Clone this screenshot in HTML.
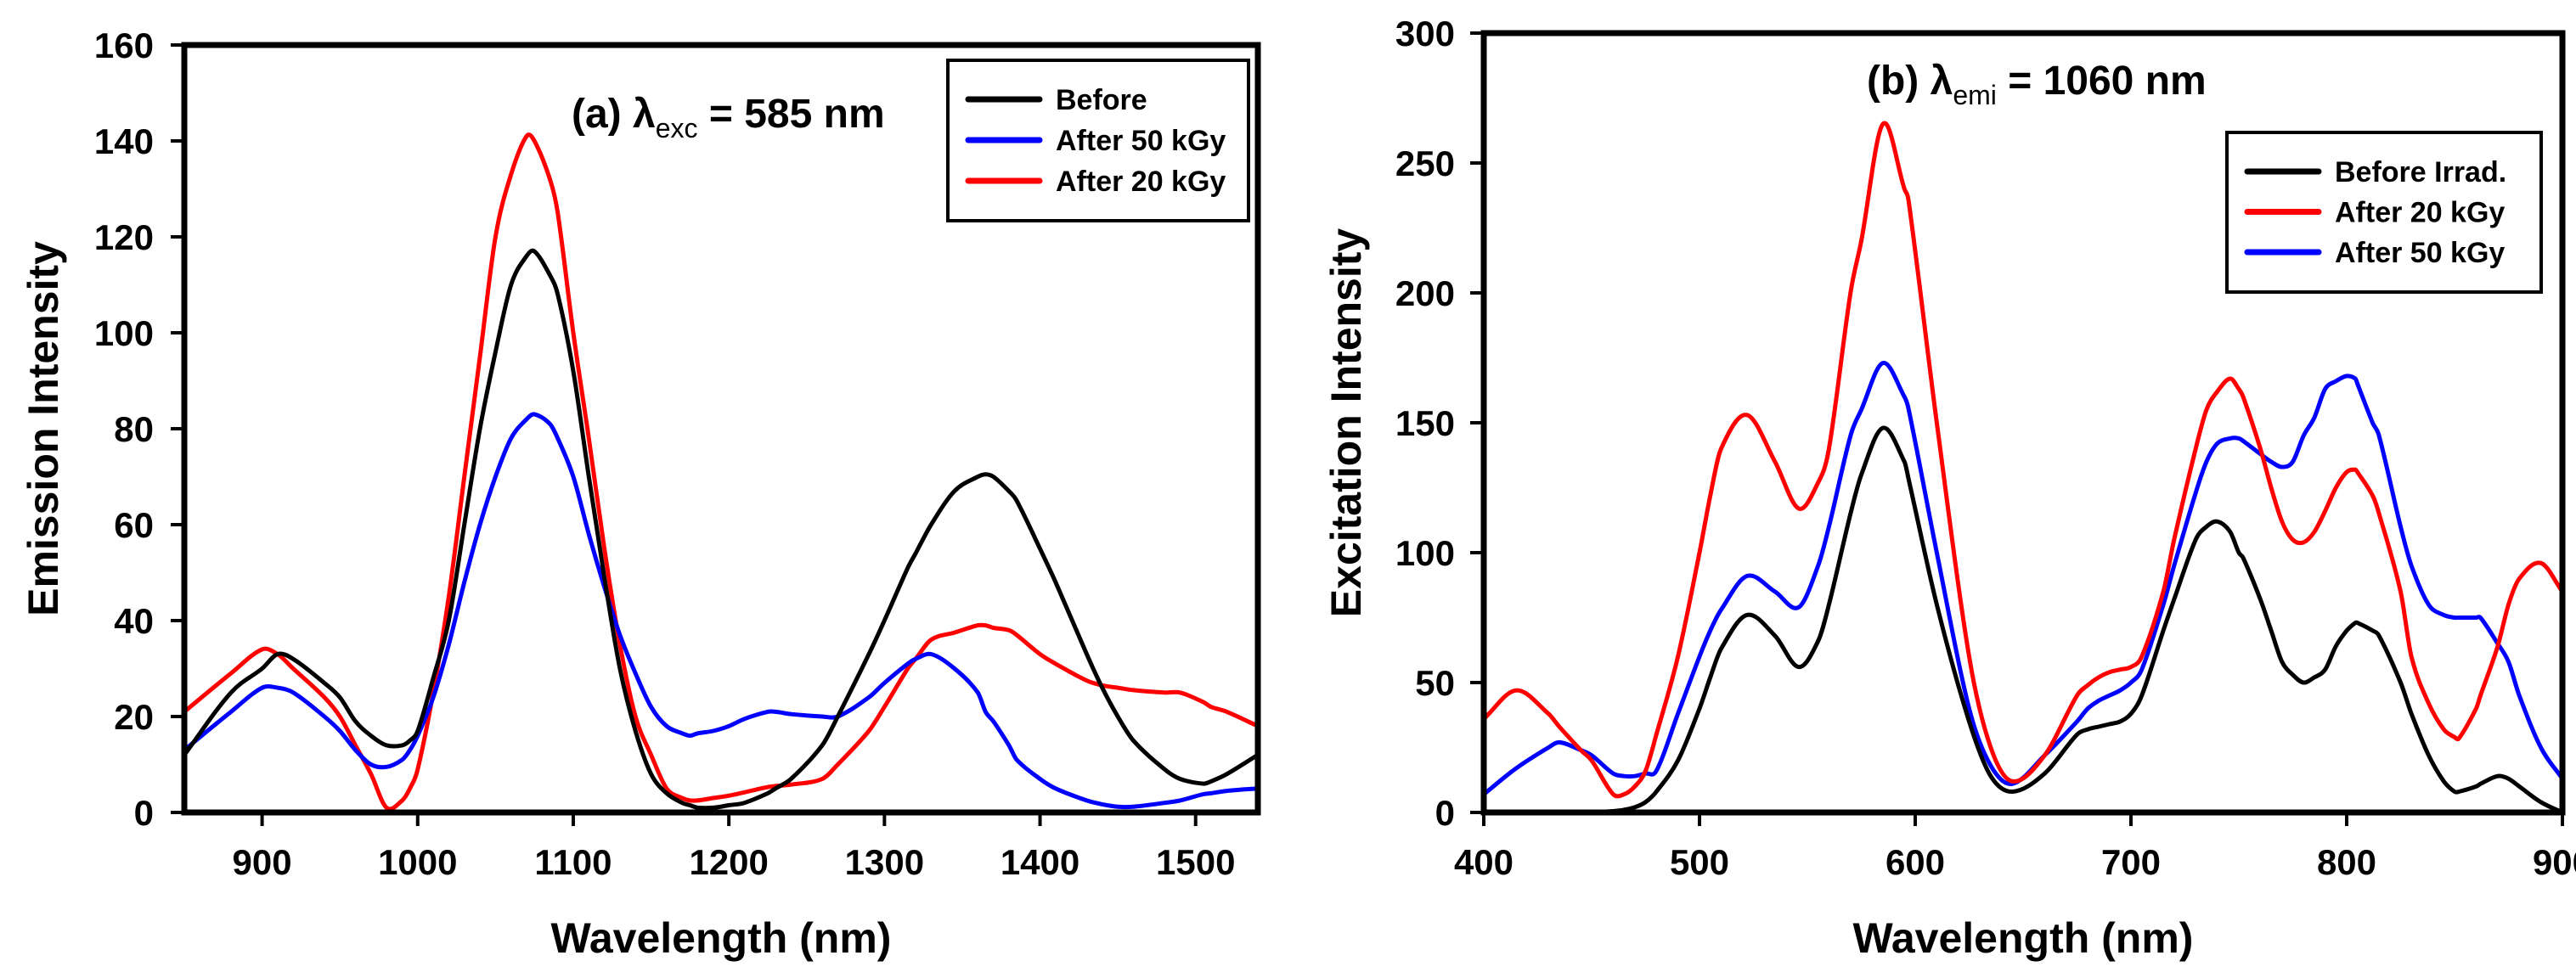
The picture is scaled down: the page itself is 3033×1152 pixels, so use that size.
<!DOCTYPE html>
<html><head><meta charset="utf-8"><style>
html,body{margin:0;padding:0;background:#fff;}
svg{display:block;font-family:"Liberation Sans",Arial,sans-serif;font-weight:bold;}
</style></head><body>
<svg id="chart" width="3033" height="1152" viewBox="0 0 3033 1152" xmlns="http://www.w3.org/2000/svg">
<rect width="3033" height="1152" fill="#fff"/>
<g id="pa"></g>
<g id="pb"></g>
</svg>
<script>
// Panel (a) data
const aX = [850,880,900,910,920,940,950,960,970,980,990,995,1000,1010,1020,1030,1040,1050,1060,1070,1075,1085,1090,1100,1110,1120,1130,1140,1150,1160,1170,1175,1180,1190,1200,1210,1225,1230,1240,1260,1270,1290,1300,1315,1320,1330,1345,1360,1365,1370,1380,1385,1400,1410,1430,1440,1450,1460,1480,1490,1505,1510,1520,1540];
const aBefore = [12,25,30,33,32,27,24,19,16,14,14,15,17,28,40,60,80,96,110,116,117,112,108,92,70,49,30,17,8,4,2,1.5,1,1,1.5,2,4,5,7,14,20,33,40,51,54,60,67,70,70.5,70,67,65,55,48,33,26,20,15,9,7,6,6.5,8,12];
const aBlue = [13,21,26,26,25,20,17,13,10,9.5,11,13,16,24,35,48,60,70,78,82,83,81,78,70,58,47,37,29,22,18,16.5,16,16.5,17,18,19.5,21,21,20.5,20,20,24,27,31,32,33,30,25,21,19,14,11,7,5,2.5,1.7,1.2,1.2,2,2.5,3.8,4,4.5,5];
const aRed = [21,29,34,33,30,24,20,14,8,1,2.5,5,9,25,45,70,95,120,133,141,140,132,125,100,78,55,35,20,12,5,3,2.5,2.5,3,3.5,4.2,5.3,5.5,5.8,7,10,17,22,30,32,36,37.5,39,39,38.5,38,37,33,31,27.5,26.5,26,25.5,25,25,23,22,21,18];
const aYTicks = [0,20,40,60,80,100,120,140,160];
const aXTicks = [900,1000,1100,1200,1300,1400,1500];
// Panel (b) data
const bX = [400,415,430,435,445,450,460,465,470,475,480,490,500,505,510,522,535,546,555,560,570,575,585,595,597,610,625,635,645,660,675,680,685,690,695,700,705,715,720,730,735,740,746,750,752,760,765,770,775,780,785,790,795,800,804,805,812,815,825,830,838,845,850,852,860,862,870,875,880,890,900];
const bBefore = [0,0,0,0,0,0,0.5,1,2,4,8,20,40,52,63,76,68,56,66,80,115,130,148,135,128,80,35,14,8,15,30,32,33,34,35,38,45,70,82,105,110,112,108,100,98,82,70,58,53,50,52,55,64,70,73,73,70,68,50,38,22,12,8,8,10,11,14,13,10,4,0];
const bRed = [36,47,38,33,24,20,7,7,10,16,30,60,100,122,140,153,135,117,127,140,200,220,265,240,235,150,60,25,12,22,45,49,52,54,55,56,60,85,105,140,155,162,167,163,160,140,125,112,105,104,108,116,125,131,132,131,122,115,85,60,42,32,29,28.5,40,45,64,80,90,96,85];
const bBlue = [7,17,25,27,24,22,15,14,14,15,16,38,60,70,78,91,85,79,95,110,145,155,173,160,155,100,40,18,11,22,35,40,43,45,47,50,55,80,95,123,135,142,144,144,143,138,135,133,135,145,152,163,166,168,167,165,150,145,110,95,80,76,75,75,75,75,65,58,45,25,13];
const bYTicks = [0,50,100,150,200,250,300];
const bXTicks = [400,500,600,700,800,900];

const NS = "http://www.w3.org/2000/svg";
function mk(parent, tag, attrs, text){
  const e = document.createElementNS(NS, tag);
  for (const k in attrs) e.setAttribute(k, attrs[k]);
  if (text !== undefined) e.textContent = text;
  parent.appendChild(e);
  return e;
}
function smoothPath(pts){
  const n = pts.length;
  const m = pts.map((p, i) => {
    const a = pts[Math.max(0, i - 1)], b = pts[Math.min(n - 1, i + 1)];
    return (b[1] - a[1]) / (b[0] - a[0]);
  });
  let d = "M" + pts[0][0].toFixed(1) + "," + pts[0][1].toFixed(1);
  for (let i = 0; i < n - 1; i++){
    const p1 = pts[i], p2 = pts[i + 1], dx = (p2[0] - p1[0]) / 3;
    d += " C" + (p1[0] + dx).toFixed(1) + "," + (p1[1] + m[i] * dx).toFixed(1) + " " +
         (p2[0] - dx).toFixed(1) + "," + (p2[1] - m[i + 1] * dx).toFixed(1) + " " +
         p2[0].toFixed(1) + "," + p2[1].toFixed(1);
  }
  return d;
}

function drawPanel(g, cfg){
  const {L,R,T,B,xmin,xmax,ymax,xTicks,yTicks,xs,series,ytitle,ytitleX,labelRight,legend,annot} = cfg;
  const sx = v => L + (v - xmin) / (xmax - xmin) * (R - L);
  const sy = v => B - v / ymax * (B - T);
  const cid = "clip" + L;
  const defs = mk(g, "defs", {});
  const cp = mk(defs, "clipPath", {id: cid});
  mk(cp, "rect", {x: L, y: T, width: R - L, height: B - T});
  series.forEach(s => {
    const pts = xs.map((x, i) => [sx(x), sy(s.vals[i])]);
    const p = mk(g, "path", {d: smoothPath(pts), fill: "none", stroke: s.color, "stroke-width": 5, "stroke-linejoin": "round", "clip-path": "url(#" + cid + ")"});
    
    
  });
  const fr = mk(g, "rect", {x: L, y: T, width: R - L, height: B - T, fill: "none", stroke: "#000", "stroke-width": 7});
  
  
  yTicks.forEach(v => {
    const y = sy(v);
    const t = mk(g, "line", {x1: L - 16, x2: L, y1: y, y2: y, stroke: "#000", "stroke-width": 4});
    
    
    const lb = mk(g, "text", {x: labelRight, y: y + 15, "text-anchor": "end", "font-size": 42}, String(v));
    
    
  });
  xTicks.forEach(v => {
    const x = sx(v);
    const t = mk(g, "line", {x1: x, x2: x, y1: B, y2: B + 16, stroke: "#000", "stroke-width": 4});
    
    
    const lb = mk(g, "text", {x: x, y: 1030, "text-anchor": "middle", "font-size": 42}, String(v));
    
    
  });
  const xt = mk(g, "text", {x: (L + R) / 2, y: 1122, "text-anchor": "middle", "font-size": 50}, "Wavelength (nm)");
  
  
  const yt = mk(g, "text", {x: 0, y: 0, "text-anchor": "middle", "font-size": 50, transform: "translate(" + ytitleX + "," + ((T + B) / 2) + ") rotate(-90)"}, ytitle);
  
  
  const an = mk(g, "text", {x: annot.x, y: annot.y, "font-size": 48});
  
  
  mk(an, "tspan", {}, annot.pre);
  mk(an, "tspan", {"font-size": 32, dy: 12, "font-weight": "normal"}, annot.sub);
  mk(an, "tspan", {dy: -12}, annot.post);
  const lg = mk(g, "g", {});
  
  
  mk(lg, "rect", {x: legend.x, y: legend.y, width: legend.w, height: legend.h, fill: "#fff", stroke: "#000", "stroke-width": 4});
  legend.items.forEach((it, i) => {
    const y = legend.y0 + i * legend.dy;
    const e = mk(lg, "g", {});
    
    
    mk(e, "line", {x1: legend.x + 24, x2: legend.x + 108, y1: y, y2: y, stroke: it.color, "stroke-width": 7, "stroke-linecap": "round"});
    mk(e, "text", {x: legend.x + 127, y: y + 12, "font-size": 34}, it.label);
  });
}

drawPanel(document.getElementById("pa"), {
  L: 217, R: 1481, T: 53, B: 957, xmin: 850, xmax: 1540, ymax: 160,
  xTicks: aXTicks, yTicks: aYTicks, xs: aX,
  series: [{name: "line-after-20kgy", color: "#ff0000", vals: aRed},
           {name: "line-after-50kgy", color: "#0000ff", vals: aBlue},
           {name: "line-before", color: "#000000", vals: aBefore}],
  ytitle: "Emission Intensity", ytitleX: 68, labelRight: 181,
  legend: {x: 1116, y: 71, w: 354, h: 189, y0: 117, dy: 48,
    items: [{label: "Before", color: "#000"}, {label: "After 50 kGy", color: "#0000ff"}, {label: "After 20 kGy", color: "#ff0000"}]},
  annot: {x: 673, y: 150, pre: "(a) λ", sub: "exc", post: " = 585 nm"}
});
drawPanel(document.getElementById("pb"), {
  L: 1747, R: 3017, T: 39, B: 957, xmin: 400, xmax: 900, ymax: 300,
  xTicks: bXTicks, yTicks: bYTicks, xs: bX,
  series: [{name: "line-after-50kgy", color: "#0000ff", vals: bBlue},
           {name: "line-after-20kgy", color: "#ff0000", vals: bRed},
           {name: "line-before-irrad", color: "#000000", vals: bBefore}],
  ytitle: "Excitation Intensity", ytitleX: 1602, labelRight: 1713,
  legend: {x: 2622, y: 156, w: 370, h: 188, y0: 202, dy: 47.5,
    items: [{label: "Before Irrad.", color: "#000"}, {label: "After 20 kGy", color: "#ff0000"}, {label: "After 50 kGy", color: "#0000ff"}]},
  annot: {x: 2198, y: 111, pre: "(b) λ", sub: "emi", post: " = 1060 nm"}
});
</script>
</body></html>
